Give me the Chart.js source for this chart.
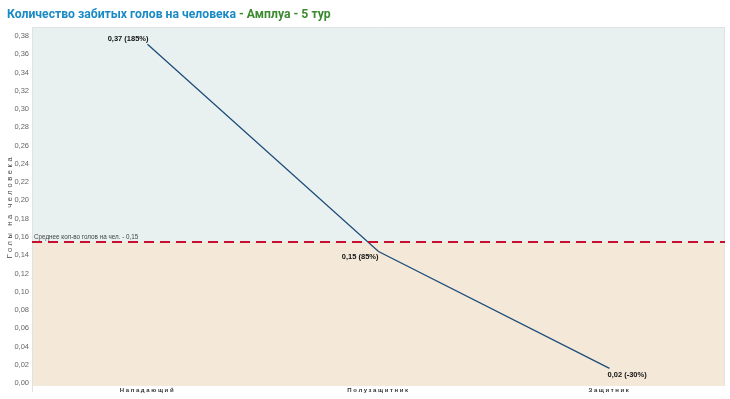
<!DOCTYPE html>
<html>
<head>
<meta charset="utf-8">
<script src="https://cdn.jsdelivr.net/npm/chart.js@4.4.1/dist/chart.umd.min.js"></script>
<style>
  html, body { margin: 0; padding: 0; background: #ffffff; }
  #wrap { position: relative; width: 730px; height: 399px; }
  #title { position: absolute; left: 7px; top: 7px; font-family: Roboto, "Noto Sans", sans-serif; font-weight: bold; font-size: 12.2px; white-space: nowrap; line-height: 14px; }
  #title .a { color: #1a8ac6; }
  #title .b { color: #3b8a2e; }
  canvas { position: absolute; left: 0; top: 0; }
</style>
</head>
<body>
<div id="wrap">
  <canvas id="c" width="730" height="399"></canvas>
  <div id="title"><span class="a">Количество забитых голов на человека</span><span class="b"> - Амплуа - 5 тур</span></div>
</div>
<script>
// ---- data ----
const categories = ["Нападающий", "Полузащитник", "Защитник"];
const goalsPerPlayer = [0.371, 0.144, 0.016];
const pointLabels = ["0,37 (185%)", "0,15 (85%)", "0,02 (-30%)"];
const averageValue = 0.1545;
const averageLabel = "Среднее кол-во голов на чел. - 0,15";
const yTickValues = [0, 0.02, 0.04, 0.06, 0.08, 0.10, 0.12, 0.14, 0.16, 0.18, 0.20, 0.22, 0.24, 0.26, 0.28, 0.30, 0.32, 0.34, 0.36, 0.38];
const yAxisTitle = "Голы на человека";

// label placement (style, not data)
const labelPlacement = [
  { align: "right", dx: 1, dy: -5 },
  { align: "right", dx: 0, dy: 5 },
  { align: "left", dx: -2, dy: 7 }
];

const bgPlugin = {
  id: "bgRegions",
  beforeDraw(chart) {
    const { ctx, chartArea: a, scales: { y } } = chart;
    const yAvg = y.getPixelForValue(averageValue);
    ctx.save();
    ctx.fillStyle = "#e8f1f0";
    ctx.fillRect(a.left, a.top, a.right - a.left, yAvg - a.top);
    ctx.fillStyle = "#f4e9d8";
    ctx.fillRect(a.left, yAvg, a.right - a.left, a.bottom - yAvg);
    ctx.strokeStyle = "#e2e2e2";
    ctx.lineWidth = 1;
    ctx.beginPath();
    ctx.moveTo(a.left + 0.5, a.bottom + 6);
    ctx.lineTo(a.left + 0.5, a.top + 0.5);
    ctx.lineTo(a.right - 0.5, a.top + 0.5);
    ctx.lineTo(a.right - 0.5, a.bottom);
    ctx.stroke();
    ctx.restore();

    // letter-spacing wrappers for x labels and y title
    const xs = chart.scales.x, ys = chart.scales.y;
    if (!xs._lsWrapped) {
      const o = xs.drawLabels;
      xs.drawLabels = function (ca) { const c = this.ctx; c.save(); c.letterSpacing = "1.6px"; o.call(this, ca); c.restore(); };
      xs._lsWrapped = true;
    }
    if (!ys._lsWrapped) {
      const o2 = ys.drawTitle;
      ys.drawTitle = function (ca) { const c = this.ctx; c.save(); c.letterSpacing = "2.6px"; o2.call(this, ca); c.restore(); };
      ys._lsWrapped = true;
    }
  }
};

const avgPlugin = {
  id: "avgLine",
  afterDatasetsDraw(chart) {
    const { ctx, chartArea: a, scales: { y } } = chart;
    const yAvg = Math.round(y.getPixelForValue(averageValue));
    ctx.save();
    ctx.strokeStyle = "#c8102e";
    ctx.lineWidth = 2.2;
    ctx.setLineDash([10, 6]);
    ctx.beginPath();
    ctx.moveTo(a.left, yAvg);
    ctx.lineTo(a.right, yAvg);
    ctx.stroke();
    ctx.setLineDash([]);
    ctx.fillStyle = "#444";
    ctx.font = "6.3px 'Liberation Sans', Arial, sans-serif";
    ctx.textAlign = "left";
    ctx.textBaseline = "alphabetic";
    ctx.fillText(averageLabel, a.left + 2, yAvg - 3);

    const meta = chart.getDatasetMeta(0);
    ctx.font = "bold 7.5px 'Liberation Sans', Arial, sans-serif";
    ctx.fillStyle = "#111";
    ctx.textBaseline = "middle";
    meta.data.forEach((pt, i) => {
      const p = labelPlacement[i];
      ctx.textAlign = p.align;
      ctx.fillText(pointLabels[i], pt.x + p.dx, pt.y + p.dy);
    });
    ctx.restore();
  }
};

new Chart(document.getElementById("c"), {
  type: "line",
  data: {
    labels: categories,
    datasets: [{
      data: goalsPerPlayer,
      borderColor: "#1f4d7a",
      borderWidth: 1.3,
      pointRadius: 0,
      tension: 0,
      fill: false
    }]
  },
  options: {
    responsive: false,
    animation: false,
    devicePixelRatio: 1,
    layout: { padding: { top: 27, right: 5, left: 0, bottom: 0 } },
    plugins: { legend: { display: false }, title: { display: false }, tooltip: { enabled: false } },
    scales: {
      x: {
        type: "category",
        offset: true,
        grid: { display: false, drawTicks: false },
        border: { display: false },
        ticks: {
          color: "#333",
          font: { family: "'Liberation Sans', Arial, sans-serif", size: 6, weight: "bold" },
          padding: 1,
          maxRotation: 0
        },
        afterFit(s) { s.height = 13; }
      },
      y: {
        type: "linear",
        min: -0.0033,
        max: 0.39,
        grid: { display: false, drawTicks: false },
        border: { display: false },
        afterBuildTicks(s) { s.ticks = yTickValues.map(v => ({ value: v })); },
        ticks: {
          color: "#666",
          padding: 3,
          font: { family: "'Liberation Sans', Arial, sans-serif", size: 7.5 },
          callback: v => v.toFixed(2).replace(".", ",")
        },
        title: {
          display: true,
          text: yAxisTitle,
          color: "#444",
          font: { family: "'Liberation Sans', Arial, sans-serif", size: 7.5 },
          padding: { top: 5, bottom: 0 }
        },
        afterFit(s) { s.width = 32; }
      }
    }
  },
  plugins: [bgPlugin, avgPlugin]
});
</script>
</body>
</html>
